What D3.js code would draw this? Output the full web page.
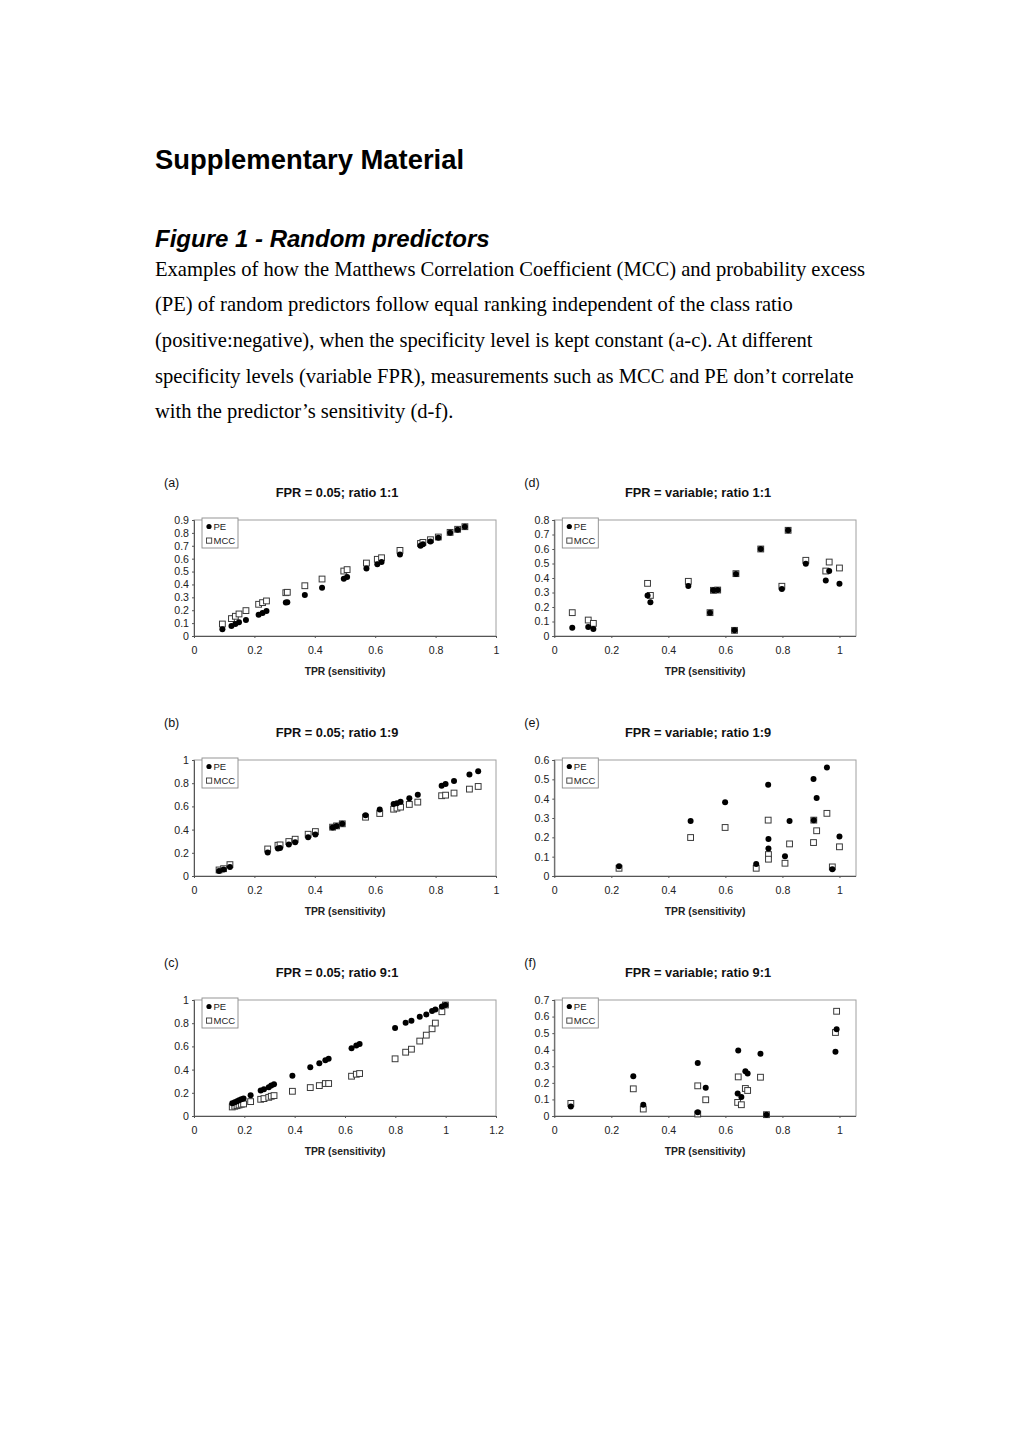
<!DOCTYPE html>
<html><head><meta charset="utf-8">
<script src="https://cdn.jsdelivr.net/npm/d3@7"></script>
<style>html,body{margin:0;padding:0;background:#fff;}svg{display:block;}</style>
</head><body>
<svg id="page" width="1020" height="1443"></svg>
<script>
// ---------- data ----------
const aTPR = [0.094,0.124,0.137,0.149,0.172,0.214,0.227,0.24,0.304,0.309,0.367,0.424,0.496,0.507,0.571,0.607,0.621,0.682,0.75,0.758,0.783,0.809,0.848,0.873,0.897];
const aPE  = [0.052,0.078,0.093,0.106,0.124,0.165,0.178,0.194,0.259,0.261,0.318,0.374,0.445,0.458,0.523,0.556,0.574,0.633,0.7,0.711,0.734,0.763,0.801,0.825,0.848];
const aMCC = [0.093,0.135,0.153,0.171,0.197,0.246,0.259,0.272,0.336,0.339,0.39,0.442,0.504,0.515,0.566,0.595,0.607,0.664,0.718,0.726,0.747,0.768,0.804,0.828,0.848];

const bTPR = [0.083,0.098,0.119,0.244,0.278,0.285,0.314,0.335,0.378,0.402,0.459,0.472,0.491,0.568,0.615,0.661,0.672,0.684,0.713,0.741,0.82,0.833,0.861,0.912,0.941];
const bPE  = [0.043,0.055,0.078,0.202,0.236,0.242,0.271,0.291,0.334,0.357,0.418,0.43,0.45,0.524,0.573,0.62,0.628,0.64,0.671,0.7,0.778,0.793,0.818,0.876,0.902];
const bMCC = [0.052,0.063,0.098,0.233,0.265,0.268,0.297,0.317,0.36,0.383,0.421,0.432,0.45,0.507,0.539,0.576,0.585,0.594,0.617,0.637,0.692,0.697,0.715,0.749,0.772];

const cTPR = [0.152,0.162,0.171,0.179,0.188,0.197,0.225,0.265,0.278,0.297,0.307,0.318,0.391,0.462,0.498,0.522,0.535,0.626,0.645,0.658,0.799,0.841,0.864,0.897,0.923,0.946,0.959,0.985,0.999];
const cPE  = [0.11,0.118,0.127,0.135,0.144,0.15,0.179,0.219,0.231,0.248,0.262,0.274,0.346,0.421,0.455,0.481,0.493,0.585,0.608,0.62,0.758,0.804,0.821,0.856,0.876,0.905,0.919,0.945,0.957];
const cMCC = [0.078,0.084,0.089,0.095,0.101,0.104,0.124,0.144,0.15,0.161,0.17,0.176,0.213,0.245,0.262,0.28,0.28,0.343,0.36,0.366,0.493,0.55,0.576,0.646,0.697,0.752,0.801,0.899,0.957];

const dTPR = [0.063,0.119,0.137,0.327,0.337,0.47,0.546,0.558,0.573,0.632,0.637,0.724,0.82,0.798,0.882,0.952,0.964,1.0];
const dPE  = [0.057,0.062,0.048,0.28,0.232,0.345,0.161,0.315,0.317,0.039,0.428,0.6,0.729,0.324,0.499,0.382,0.448,0.361];
const dMCC = [0.161,0.11,0.087,0.363,0.28,0.377,0.161,0.315,0.317,0.039,0.43,0.6,0.729,0.343,0.522,0.448,0.51,0.469];

const eTPR = [0.227,0.478,0.599,0.708,0.75,0.751,0.751,0.809,0.825,0.909,0.91,0.92,0.956,0.975,1.0];
const ePE  = [0.05,0.285,0.381,0.062,0.472,0.192,0.142,0.102,0.284,0.502,0.289,0.403,0.561,0.035,0.204];
const eMCC = [0.04,0.199,0.251,0.04,0.289,0.111,0.087,0.066,0.166,0.173,0.289,0.234,0.324,0.047,0.151];

const fTPR = [0.058,0.277,0.312,0.503,0.503,0.531,0.645,0.643,0.656,0.67,0.678,0.723,0.744,0.986,0.99];
const fPE  = [0.058,0.24,0.068,0.32,0.022,0.17,0.396,0.136,0.114,0.27,0.256,0.376,0.008,0.388,0.524];
const fMCC = [0.076,0.164,0.042,0.182,0.012,0.098,0.236,0.082,0.068,0.166,0.154,0.234,0.008,0.504,0.632];

const panelLabels = ["(a)","(b)","(c)","(d)","(e)","(f)"];
const panelTitles = ["FPR = 0.05; ratio 1:1","FPR = 0.05; ratio 1:9","FPR = 0.05; ratio 9:1",
                     "FPR = variable; ratio 1:1","FPR = variable; ratio 1:9","FPR = variable; ratio 9:1"];
const yMaxes = [0.9, 1, 1, 0.8, 0.6, 0.7];
const yTickSteps = [0.1, 0.2, 0.2, 0.1, 0.1, 0.1];
const xTickMaxes = [1, 1, 1.2, 1, 1, 1];
const xAxisTitle = "TPR (sensitivity)";
const seriesNames = ["PE", "MCC"];

const heading = "Supplementary Material";
const figTitle = "Figure 1 - Random predictors";
const captionLines = [
  "Examples of how the Matthews Correlation Coefficient (MCC) and probability excess",
  "(PE) of random predictors follow equal ranking independent of the class ratio",
  "(positive:negative), when the specificity level is kept constant (a-c). At different",
  "specificity levels (variable FPR), measurements such as MCC and PE don\u2019t correlate",
  "with the predictor\u2019s sensitivity (d-f)."
];

// ---------- page ----------
const svg = d3.select("#page");
svg.append("text").attr("x",155).attr("y",169)
  .style("font-family","'Liberation Sans', Arial, sans-serif").style("font-weight","bold")
  .style("font-size","27.4px").attr("fill","#000").text(heading);
svg.append("text").attr("x",155).attr("y",247)
  .style("font-family","'Liberation Sans', Arial, sans-serif").style("font-weight","bold").style("font-style","italic")
  .style("font-size","24px").attr("fill","#000").text(figTitle);
svg.selectAll("text.cap").data(captionLines).join("text").attr("class","cap")
  .attr("x",155).attr("y",(d,i)=>275.5 + i*35.7)
  .style("font-family","'Liberation Serif', 'Times New Roman', serif")
  .style("font-size","20.57px").attr("fill","#000").text(d=>d);

// ---------- panels ----------
const tprs = [aTPR,bTPR,cTPR,dTPR,eTPR,fTPR];
const pes  = [aPE,bPE,cPE,dPE,ePE,fPE];
const mccs = [aMCC,bMCC,cMCC,dMCC,eMCC,fMCC];

const colX = [{x0:194, x1:496, titleX:337}, {x0:554.3, x1:856, titleX:698}];
const rowY = [520, 760, 1000];
const plotH = 116;
const sans = "'Liberation Sans', Arial, sans-serif";

for (let p = 0; p < 6; p++) {
  const col = p < 3 ? 0 : 1, row = p % 3;
  const L = colX[col];
  const top = rowY[row], bottom = top + plotH;
  const xMaxDomain = col === 0 ? xTickMaxes[p] : 1.058;
  const x = d3.scaleLinear().domain([0, xMaxDomain]).range([L.x0, L.x1]);
  const y = d3.scaleLinear().domain([0, yMaxes[p]]).range([bottom, top]);
  const g = svg.append("g");

  // panel label & title
  g.append("text").attr("x", L.x0 - 30).attr("y", top - 33)
    .style("font-family", sans).style("font-size","12.5px").attr("fill","#111").text(panelLabels[p]);
  g.append("text").attr("x", L.titleX).attr("y", top - 23).attr("text-anchor","middle")
    .style("font-family", sans).style("font-weight","bold").style("font-size","12.8px").attr("fill","#111").text(panelTitles[p]);

  // plot border
  g.append("rect").attr("x", L.x0).attr("y", top).attr("width", L.x1 - L.x0).attr("height", plotH)
    .attr("fill","none").attr("stroke","#a0a0a0").attr("stroke-width",1);

  // axes
  const nY = Math.round(yMaxes[p] / yTickSteps[p]);
  const yTicks = d3.range(nY + 1).map(i => +(i * yTickSteps[p]).toFixed(2));
  const nX = Math.round(xTickMaxes[p] / 0.2);
  const xTicks = d3.range(nX + 1).map(i => +(i * 0.2).toFixed(2));

  const yAxis = d3.axisLeft(y).tickValues(yTicks).tickSize(2).tickPadding(3).tickFormat(d3.format("~g"));
  const xAxis = d3.axisBottom(x).tickValues(xTicks).tickSize(2).tickPadding(8).tickFormat(d3.format("~g"));
  const ya = g.append("g").attr("transform", `translate(${L.x0},0)`).call(yAxis);
  const xa = g.append("g").attr("transform", `translate(0,${bottom})`).call(xAxis);
  [ya, xa].forEach(a => {
    a.select(".domain").attr("stroke","#555").attr("stroke-width",1);
    a.selectAll(".tick line").attr("stroke","#555");
    a.selectAll(".tick text").style("font-family", sans).style("font-size","10.6px").attr("fill","#222");
  });
  xa.select(".domain").attr("d", `M${L.x0},0.5H${L.x1}`);

  g.append("text").attr("x", (L.x0 + L.x1) / 2).attr("y", bottom + 38.5).attr("text-anchor","middle")
    .style("font-family", sans).style("font-weight","bold").style("font-size","10.3px").attr("fill","#222").text(xAxisTitle);

  // marks: squares (MCC) first, circles (PE) on top
  const tpr = tprs[p];
  const s = 5.8;
  g.append("g").selectAll("rect").data(mccs[p]).join("rect")
    .attr("x", (d,i) => x(tpr[i]) - s/2).attr("y", d => y(d) - s/2)
    .attr("width", s).attr("height", s)
    .attr("fill","#fff").attr("stroke","#3a3a3a").attr("stroke-width",1);
  g.append("g").selectAll("circle").data(pes[p]).join("circle")
    .attr("cx", (d,i) => x(tpr[i])).attr("cy", d => y(d)).attr("r", 3).attr("fill","#000");

  // legend
  const lx = L.x0 + 8, ly = top - 2;
  g.append("rect").attr("x", lx).attr("y", ly).attr("width", 36).attr("height", 30)
    .attr("fill","#fff").attr("stroke","#8a8a8a").attr("stroke-width",0.9);
  g.append("circle").attr("cx", lx + 7).attr("cy", ly + 8.5).attr("r", 2.6).attr("fill","#000");
  g.append("rect").attr("x", lx + 4.5).attr("y", ly + 20).attr("width", 5.2).attr("height", 5.2)
    .attr("fill","#fff").attr("stroke","#3a3a3a").attr("stroke-width",0.9);
  g.append("text").attr("x", lx + 11.5).attr("y", ly + 12)
    .style("font-family", sans).style("font-size","9.5px").attr("fill","#222").text(seriesNames[0]);
  g.append("text").attr("x", lx + 11.5).attr("y", ly + 26.3)
    .style("font-family", sans).style("font-size","9.5px").attr("fill","#222").text(seriesNames[1]);
}
</script>
</body></html>
